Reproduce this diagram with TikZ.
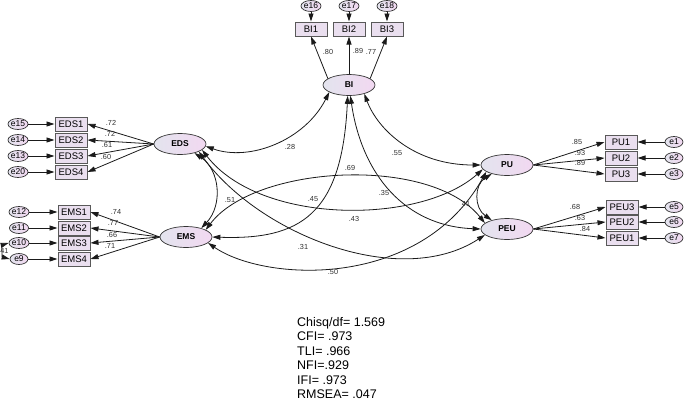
\documentclass[tikz,border=0pt]{standalone}
\usepackage{fontspec}
\setmainfont{Liberation Sans}
\usetikzlibrary{arrows.meta,shapes.geometric}
\definecolor{latL}{HTML}{E3E4EE}
\definecolor{latR}{HTML}{F2D8F1}
\definecolor{boxfill}{HTML}{EADFEF}
\definecolor{lin}{HTML}{1A1A1A}
\definecolor{labc}{HTML}{2E2E2E}
\tikzset{
 lat/.style={ellipse, draw=black!80, line width=0.7pt, minimum width=52pt, minimum height=21pt, inner sep=0pt, left color=latL, right color=latR, font=\fontsize{8.5}{10}\selectfont\bfseries},
 obs/.style={rectangle, draw=black!65, line width=1pt, minimum width=32pt, minimum height=14pt, inner sep=0pt, fill=boxfill, font=\fontsize{9.5}{11}\selectfont},
 err/.style={ellipse, draw=black!80, line width=0.7pt, minimum width=18pt, minimum height=11pt, inner sep=0pt, left color=latL, right color=latR, font=\fontsize{8.5}{9}\selectfont},
 arr/.style={-{Triangle[length=8pt,width=5pt]}, line width=0.8pt, draw=lin},
 cov/.style={{Triangle[length=8pt,width=5pt]}-{Triangle[length=8pt,width=5pt]}, line width=0.8pt, draw=lin},
 lab/.style={font=\fontsize{7.3}{8}\selectfont, text=labc, inner sep=0pt},
 fitstat/.style={font=\fontsize{12.5}{14}\selectfont, anchor=base west, inner sep=0pt}
}
\begin{document}
\begin{tikzpicture}[x=1pt,y=-1pt]
\useasboundingbox (0,0) rectangle (685,400);
% latent variables
\node[lat] (BI)  at (349,85)  {BI};
\node[lat] (EDS) at (180,144) {EDS};
\node[lat] (EMS) at (186,237) {EMS};
\node[lat] (PU)  at (507,165) {PU};
\node[lat] (PEU) at (507,229) {PEU};
% BI indicators
\node[obs] (BI1) at (311,29) {BI1};
\node[obs] (BI2) at (349,29) {BI2};
\node[obs] (BI3) at (387,29) {BI3};
\node[err] (e16) at (311,6) {e16};
\node[err] (e17) at (349,6) {e17};
\node[err] (e18) at (387,6) {e18};
% EDS indicators
\node[obs] (EDS1) at (71,124) {EDS1};
\node[obs] (EDS2) at (71,140) {EDS2};
\node[obs] (EDS3) at (71,156) {EDS3};
\node[obs] (EDS4) at (71,172) {EDS4};
\node[err] (e15) at (18,124) {e15};
\node[err] (e14) at (18,140) {e14};
\node[err] (e13) at (18,156) {e13};
\node[err] (e20) at (18,172) {e20};
% EMS indicators
\node[obs] (EMS1) at (74,212) {EMS1};
\node[obs] (EMS2) at (74,228) {EMS2};
\node[obs] (EMS3) at (74,243) {EMS3};
\node[obs] (EMS4) at (74,259) {EMS4};
\node[err] (e12) at (19,212) {e12};
\node[err] (e11) at (19,228) {e11};
\node[err] (e10) at (19,243) {e10};
\node[err] (e9)  at (19,259) {e9};
% PU indicators
\node[obs] (PU1) at (621,142) {PU1};
\node[obs] (PU2) at (621,158) {PU2};
\node[obs] (PU3) at (621,174) {PU3};
\node[err] (e1) at (674,142) {e1};
\node[err] (e2) at (674,158) {e2};
\node[err] (e3) at (674,174) {e3};
% PEU indicators
\node[obs] (PEU3) at (622,207) {PEU3};
\node[obs] (PEU2) at (622,222) {PEU2};
\node[obs] (PEU1) at (622,238) {PEU1};
\node[err] (e5) at (674,207) {e5};
\node[err] (e6) at (674,222) {e6};
\node[err] (e7) at (674,238) {e7};
% error arrows
\foreach \e/\b in {e16/BI1,e17/BI2,e18/BI3}{\draw[arr] (\e.south) -- (\b.north);}
\foreach \e/\b in {e15/EDS1,e14/EDS2,e13/EDS3,e20/EDS4,e12/EMS1,e11/EMS2,e10/EMS3,e9/EMS4}{\draw[arr] (\e.east) -- (\b.west);}
\foreach \e/\b in {e1/PU1,e2/PU2,e3/PU3,e5/PEU3,e6/PEU2,e7/PEU1}{\draw[arr] (\e.west) -- (\b.east);}
\draw[cov] (e10.west) .. controls (2,245) and (2,257) .. (e9.west);
\node[lab] (l41a) at (4.5,251) {41};
% loadings
\draw[arr] (BI.163) -- (BI1.south);
\draw[arr] (BI.north) -- (BI2.south);
\draw[arr] (BI.17) -- (BI3.south);
\foreach \b in {EDS1,EDS2,EDS3,EDS4}{\draw[arr] (EDS.west) -- (\b.east);}
\foreach \b in {EMS1,EMS2,EMS3,EMS4}{\draw[arr] (EMS.west) -- (\b.east);}
\foreach \b in {PU1,PU2,PU3}{\draw[arr] (PU.east) -- (\b.west);}
\foreach \b in {PEU3,PEU2,PEU1}{\draw[arr] (PEU.east) -- (\b.west);}
\node[lab] (l80) at (328,52) {.80};
\node[lab] (l89) at (358,51) {.89};
\node[lab] (l77) at (371,52) {.77};
\node[lab] (l72a) at (111,123) {.72};
\node[lab] (l72b) at (110,134) {.72};
\node[lab] (l61) at (107,145) {.61};
\node[lab] (l60) at (106,157) {.60};
\node[lab] (l74) at (116,212) {.74};
\node[lab] (l77b) at (113,223) {.77};
\node[lab] (l66) at (112,235) {.66};
\node[lab] (l71) at (110,246) {.71};
\node[lab] (l85) at (577,142) {.85};
\node[lab] (l93) at (580,153) {.93};
\node[lab] (l89b) at (580,163) {.89};
\node[lab] (l68) at (575,207) {.68};
\node[lab] (l63) at (580,218) {.63};
\node[lab] (l84) at (585,229) {.84};
% covariances
\draw[cov] (EDS.-5) .. controls (250,162) and (305,140) .. (BI.200);
\draw[cov] (BI.-30) .. controls (378,130) and (415,165) .. (PU.180);
\draw[cov] (BI.-97) .. controls (342,215) and (300,240) .. (EMS.0);
\draw[cov] (BI.-83) .. controls (362,175) and (405,226) .. (PEU.180);
\draw[cov] (EDS.-32) .. controls (220,170) and (223,205) .. (EMS.30);
\draw[cov] (EMS.20) .. controls (255,165) and (430,155) .. (PEU.165);
\draw[cov] (EDS.-15) .. controls (260,225) and (420,225) .. (PU.190);
\draw[cov] (EDS.-22) .. controls (260,235) and (400,290) .. (PEU.195);
\draw[cov] (EMS.-15) .. controls (265,282) and (420,290) .. (PU.198);
\draw[cov] (PU.210) .. controls (474,185) and (474,208) .. (PEU.150);
\node[lab] (l28) at (290,147) {.28};
\node[lab] (l55) at (397,153) {.55};
\node[lab] (l69) at (350,168) {.69};
\node[lab] (l51) at (230,200) {.51};
\node[lab] (l45) at (313,199) {.45};
\node[lab] (l35) at (384,193) {.35};
\node[lab] (l43) at (354,219) {.43};
\node[lab] (l41b) at (466,204) {41};
\node[lab] (l31) at (303,247) {.31};
\node[lab] (l50) at (333,272) {.50};
% fit statistics
\node[fitstat] (s1) at (297,326.5) {Chisq/df= 1.569};
\node[fitstat] (s2) at (297,340.9) {CFI= .973};
\node[fitstat] (s3) at (297,355.3) {TLI= .966};
\node[fitstat] (s4) at (297,369.7) {NFI=.929};
\node[fitstat] (s5) at (297,384.1) {IFI= .973};
\node[fitstat] (s6) at (297,398.5) {RMSEA= .047};
\end{tikzpicture}
\end{document}
